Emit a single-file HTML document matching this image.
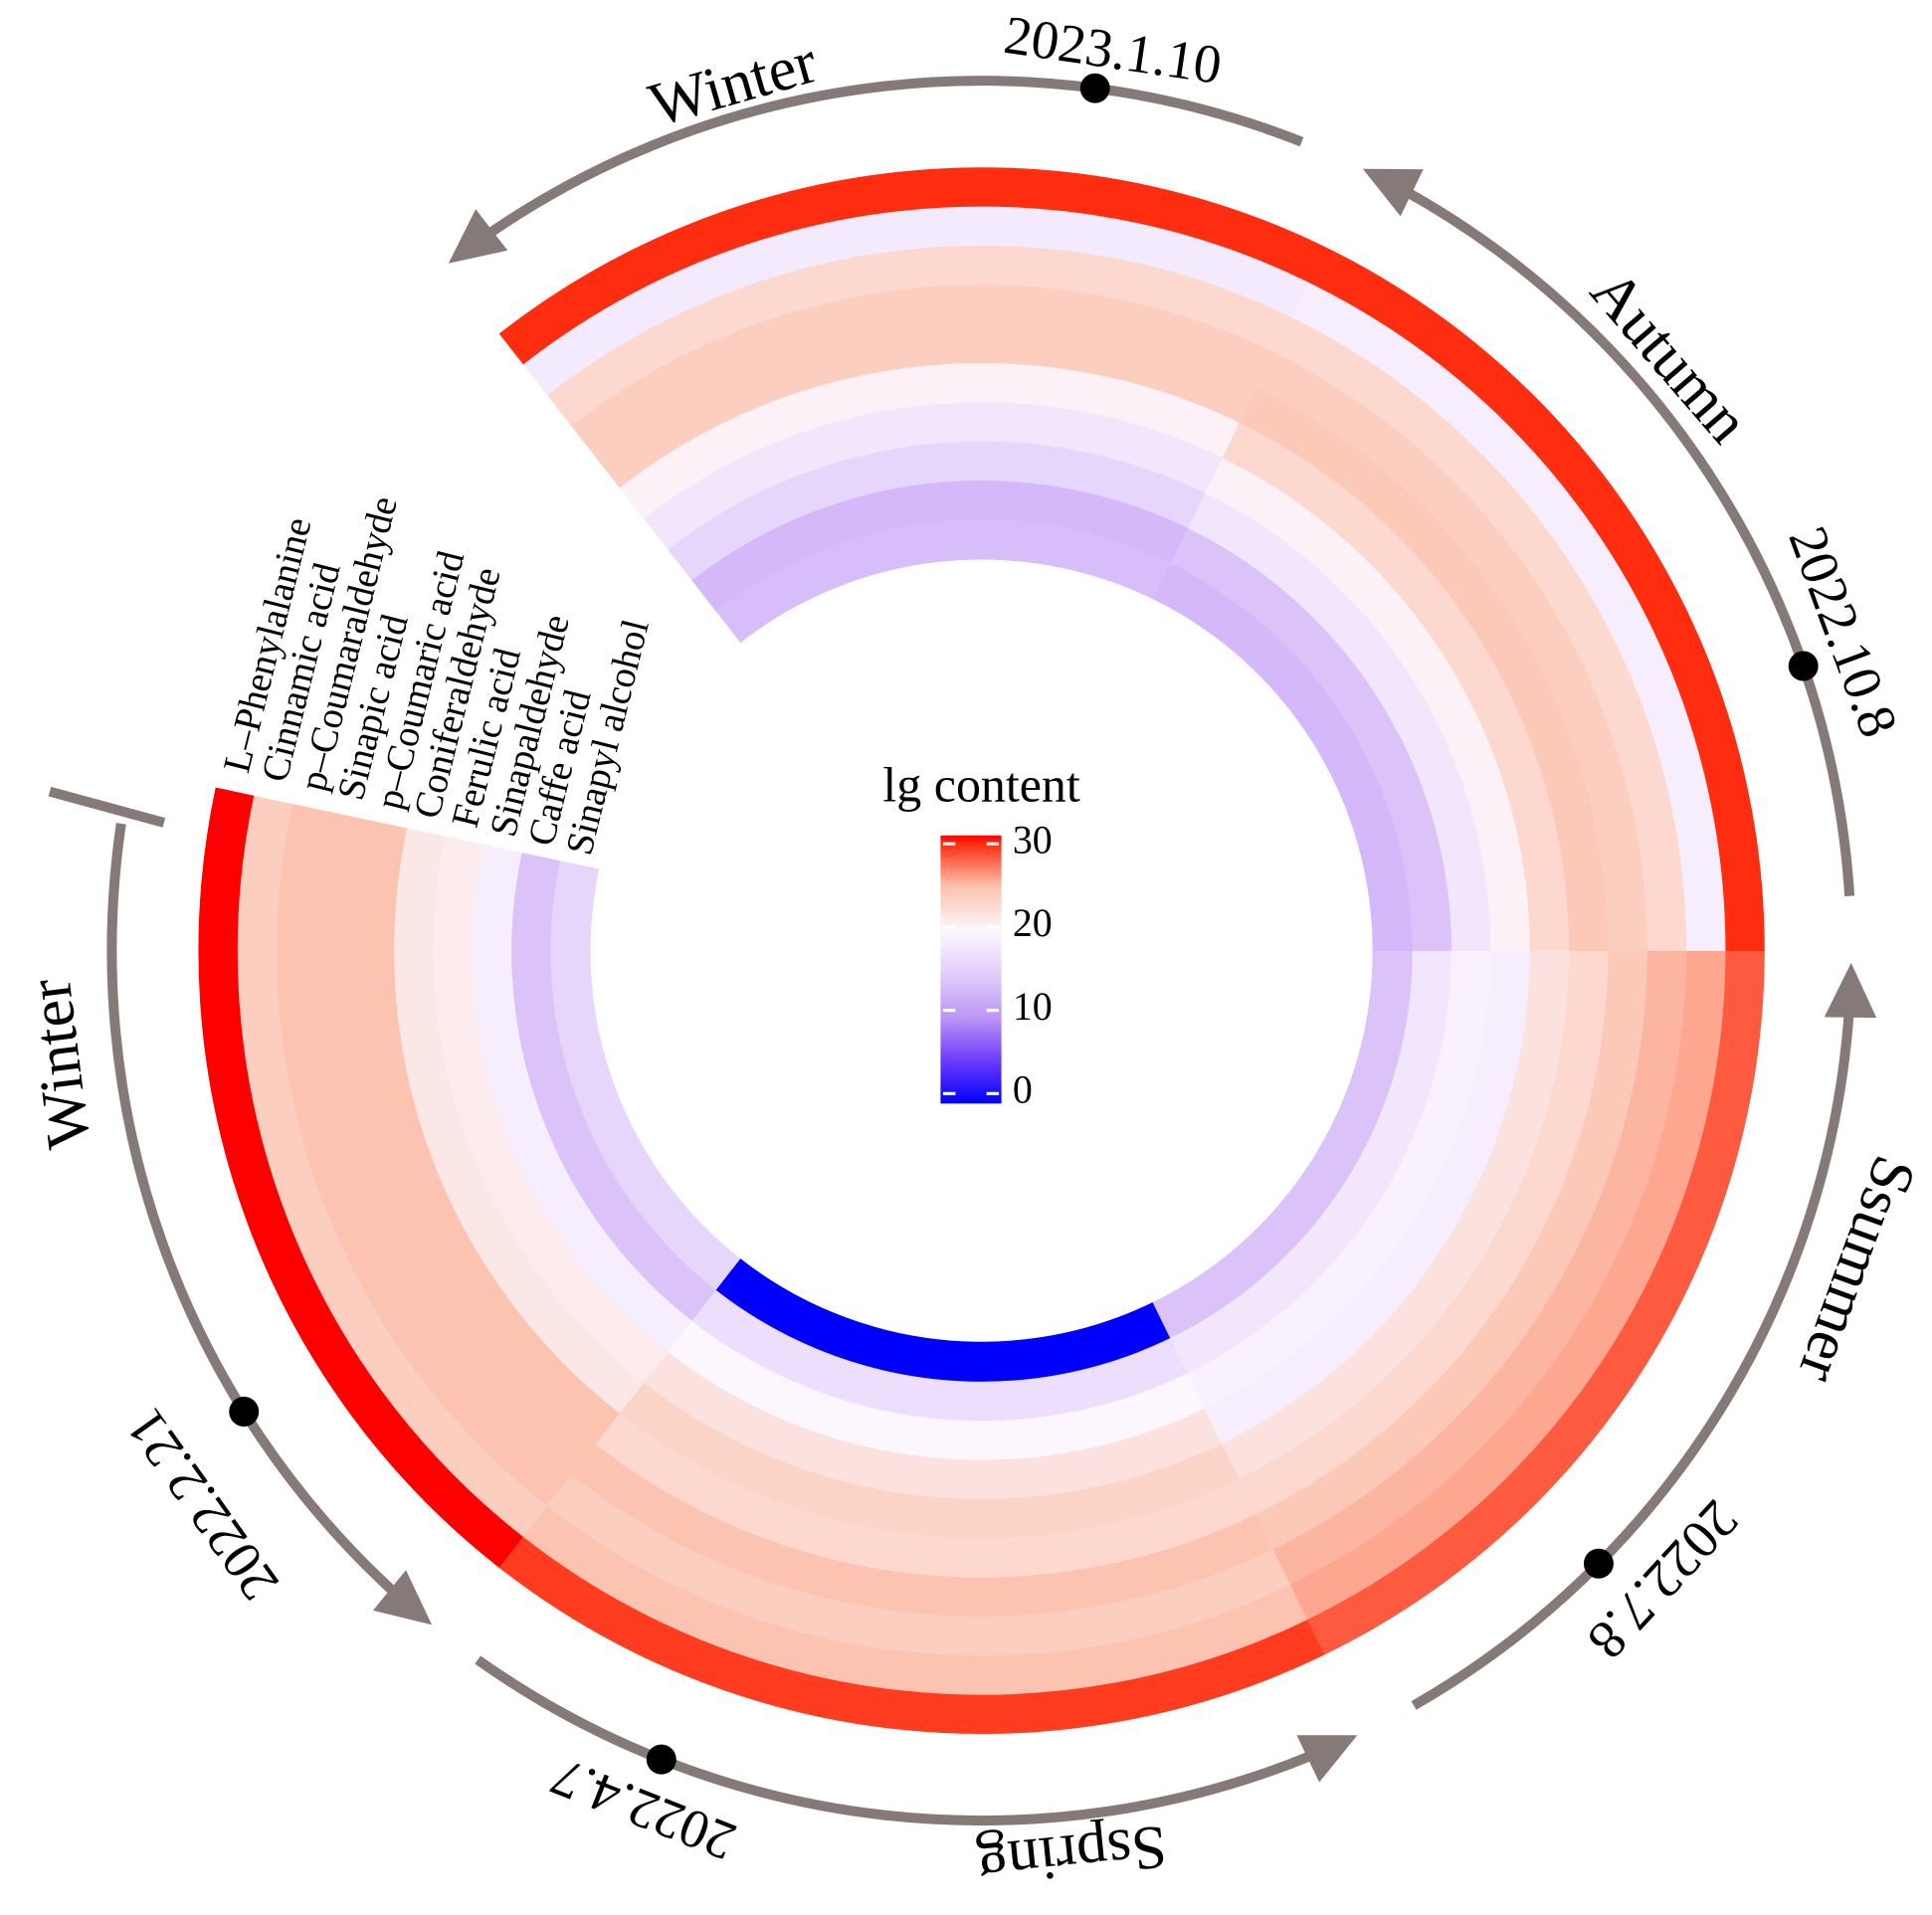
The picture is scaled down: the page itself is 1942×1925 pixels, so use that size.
<!DOCTYPE html>
<html><head><meta charset="utf-8"><style>html,body{margin:0;padding:0;background:#fff}svg{display:block}</style></head>
<body>
<svg id="chart" xmlns="http://www.w3.org/2000/svg" width="1942" height="1925" viewBox="0 0 1555 1541" preserveAspectRatio="none">
<g id="cells"></g>
<g id="labels"></g>
<g id="arrows"></g>
<g id="legend">
<text x="790" y="645" text-anchor="middle" font-family="Liberation Serif, serif" font-size="40">lg content</text>
</g>
</svg>
<script>
const compounds = ["L\u2013Phenylalanine","Cinnamic acid","p\u2013Coumaraldehyde","Sinapic acid","p\u2013Coumaric acid","Coniferaldehyde","Ferulic acid","Sinapaldehyde","Caffe acid","Sinapyl alcohol"];
const dates = ["2022.2.21","2022.4.7","2022.7.8","2022.10.8","2023.1.10"];
const v_2022_2_21 = [31,24,25,25,25,21.5,21,19,14,16];
const v_2022_4_7 = [29.5,25,24,25,23,23.5,22,20,17,0];
const v_2022_7_8 = [28.5,26,25.5,24.5,23,22,19,19.5,18,14];
const v_2022_10_8 = [30,19,23,24,24.5,23,20.5,18,14,13];
const v_2023_1_10 = [30,18.5,23,24,24,20.5,18,16,13,13.5];
const values = [v_2022_2_21,v_2022_4_7,v_2022_7_8,v_2022_10_8,v_2023_1_10];
const legendTicks = [0,10,20,30];
const seasons = ["Winter","Sspring","Ssummer","Autumn","Winter"];

const NS="http://www.w3.org/2000/svg";
const cx=790, cy=765, r0=315, r1=630, startA=192, span=64;
const stops=[[0,[0,0,255]],[5,[110,60,248]],[10,[190,150,246]],[15,[226,206,251]],[20,[252,246,254]],[25,[252,196,176]],[30,[255,45,16]],[31,[255,0,0]]];
function color(v){v=Math.max(0,Math.min(31,v));for(let i=0;i<stops.length-1;i++){const[a,ca]=stops[i],[b,cb]=stops[i+1];if(v<=b){const t=(v-a)/(b-a);const c=ca.map((x,k)=>Math.round(x+(cb[k]-x)*t));return`rgb(${c})`;}}return"rgb(255,0,0)";}
const rad=d=>d*Math.PI/180;
const P=(a,r)=>[cx+r*Math.cos(rad(a)),cy+r*Math.sin(rad(a))];
const ringW=(r1-r0)/compounds.length;
function ringR(i){return r1-i*ringW;}
const cells=document.getElementById('cells');
values.forEach((arr,s)=>{
  const a0=startA-s*span, a1=a0-span;
  arr.forEach((v,i)=>{
    const ro=ringR(i), ri=ro-ringW;
    const p1=P(a0,ro),p2=P(a1,ro),p3=P(a1,ri),p4=P(a0,ri);
    const p=document.createElementNS(NS,'path');
    p.setAttribute('d',`M${p1}A${ro},${ro} 0 0 0 ${p2}L${p3}A${ri},${ri} 0 0 1 ${p4}Z`);
    p.setAttribute('fill',color(v));p.setAttribute('stroke',color(v));p.setAttribute('stroke-width','0.6');
    
    
    cells.appendChild(p);
  });
});
const labels=document.getElementById('labels');
compounds.forEach((c,i)=>{
  const r=ringR(i)-ringW/2; const [x,y]=P(startA+1.5,r);
  const t=document.createElementNS(NS,'text');
  t.setAttribute('x',x);t.setAttribute('y',y);
  t.setAttribute('transform',`rotate(-76 ${x} ${y})`);
  t.setAttribute('font-family','Liberation Serif, serif');t.setAttribute('font-size','31');
  t.setAttribute('dominant-baseline','middle');
  t.textContent=c;
  
  
  labels.appendChild(t);
});
const arcs=[[188.4,129.2],[125.4,64.4],[60.2,0.8],[-3.6,-64],[-68.4,-127.8]];
const dotA=[148,111.6,44.8,-19.1,-82.5];
const seasonPos=[[173,743],[84.3,727],[20,745],[-40.8,727],[-106,721]];
const datePos=[[144.6,765],[111.5,738],[42.7,742],[-20.3,735],[-81.7,728]];
const AR=700, gc="#857a78";
const ag=document.getElementById('arrows');
arcs.forEach(([a0,a1],k)=>{
  const tip=P(a1,AR); const d=[Math.sin(rad(a1)),-Math.cos(rad(a1))]; const n=[Math.cos(rad(a1)),Math.sin(rad(a1))];
  const base=[tip[0]-d[0]*44,tip[1]-d[1]*44];
  const aEnd=a1+3;
  const pa=document.createElementNS(NS,'path');
  pa.setAttribute('d',`M${P(a0,AR)}A${AR},${AR} 0 0 0 ${P(aEnd,AR)}`);
  pa.setAttribute('fill','none');pa.setAttribute('stroke',gc);pa.setAttribute('stroke-width','8');
  
  
  ag.appendChild(pa);
  const tr=document.createElementNS(NS,'path');
  tr.setAttribute('d',`M${tip}L${base[0]+n[0]*21},${base[1]+n[1]*21}L${base[0]-n[0]*21},${base[1]-n[1]*21}Z`);
  tr.setAttribute('fill',gc);
  
  
  ag.appendChild(tr);
  const dp=P(dotA[k],AR);
  const c=document.createElementNS(NS,'circle');c.setAttribute('cx',dp[0]);c.setAttribute('cy',dp[1]);c.setAttribute('r','12');
  
  
  ag.appendChild(c);
  [[seasons[k],seasonPos[k],50,'season-label'],[dates[k],datePos[k],44,'date-label']].forEach(([txt,[a,r],fs,nm])=>{
    const [x,y]=P(a,r);
    const t=document.createElementNS(NS,'text');
    t.setAttribute('x',x);t.setAttribute('y',y);t.setAttribute('text-anchor','middle');t.setAttribute('dominant-baseline','middle');
    t.setAttribute('transform',`rotate(${a+90} ${x} ${y})`);
    t.setAttribute('font-family','Liberation Serif, serif');t.setAttribute('font-size',fs);
    t.textContent=txt;
    
    
    ag.appendChild(t);
  });
});
const tk=document.createElementNS(NS,'line');
tk.setAttribute('x1',40);tk.setAttribute('y1',637);tk.setAttribute('x2',132);tk.setAttribute('y2',662);
tk.setAttribute('stroke',gc);tk.setAttribute('stroke-width','8');


ag.appendChild(tk);
const lg=document.getElementById('legend');
const yb=880, ppu=6.7, bx=757, bw=49, vmax=31;
const defs=document.createElementNS(NS,'defs');
const gr=document.createElementNS(NS,'linearGradient');gr.setAttribute('id','lgGrad');gr.setAttribute('x1','0');gr.setAttribute('y1','1');gr.setAttribute('x2','0');gr.setAttribute('y2','0');
for(let v=0;v<=vmax;v+=1){const s=document.createElementNS(NS,'stop');s.setAttribute('offset',v/vmax);s.setAttribute('stop-color',color(v));gr.appendChild(s);}
defs.appendChild(gr);lg.appendChild(defs);
const rb=document.createElementNS(NS,'rect');
rb.setAttribute('x',bx);rb.setAttribute('y',yb-vmax*ppu);rb.setAttribute('width',bw);rb.setAttribute('height',vmax*ppu+8);rb.setAttribute('fill','url(#lgGrad)');


lg.appendChild(rb);
legendTicks.forEach(v=>{
  const y=yb-v*ppu;
  [[bx+2,bx+12],[bx+bw-12,bx+bw-2]].forEach(([a,b])=>{const l=document.createElementNS(NS,'line');l.setAttribute('x1',a);l.setAttribute('x2',b);l.setAttribute('y1',y);l.setAttribute('y2',y);l.setAttribute('stroke','#fff');l.setAttribute('stroke-width','2.5');
    
    
    lg.appendChild(l);});
  const t=document.createElementNS(NS,'text');t.setAttribute('x',bx+bw+9);t.setAttribute('y',y);t.setAttribute('dominant-baseline','middle');
  t.setAttribute('font-family','Liberation Serif, serif');t.setAttribute('font-size','32');t.textContent=v;
  
  
  lg.appendChild(t);
});
</script>
</body></html>
